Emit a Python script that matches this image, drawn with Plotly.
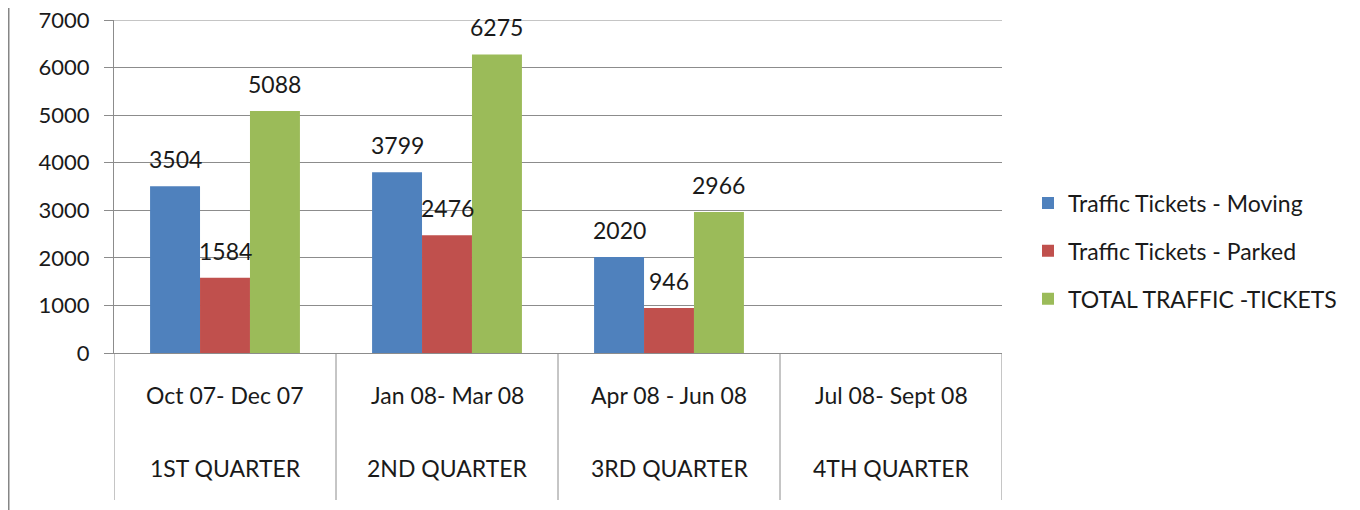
import plotly.graph_objects as go

periods = ["Oct 07- Dec 07", "Jan 08- Mar 08", "Apr 08 - Jun 08", "Jul 08- Sept 08"]
quarters = ["1ST QUARTER", "2ND QUARTER", "3RD QUARTER", "4TH QUARTER"]
series_names = ["Traffic Tickets - Moving", "Traffic Tickets - Parked", "TOTAL TRAFFIC -TICKETS"]
moving = [3504, 3799, 2020, None]
parked = [1584, 2476, 946, None]
total = [5088, 6275, 2966, None]
colors = ["#4F81BD", "#C0504D", "#9BBB59"]
y_ticks = [0, 1000, 2000, 3000, 4000, 5000, 6000, 7000]

FONT = "Lato"
TXT = "#1a1a1a"
x = list(range(len(periods)))
BARGAP = 0.325
n_series = len(series_names)
bar_w = (1 - BARGAP) / n_series

fig = go.Figure()
annotations = []
for i, (name, vals) in enumerate(zip(series_names, [moving, parked, total])):
    fig.add_trace(go.Bar(
        x=x, y=vals, name=name, marker_color=colors[i], marker_line_width=0,
        offsetgroup=str(i), legendgroup=str(i),
    ))
    for k, v in enumerate(vals):
        if v is None:
            continue
        annotations.append(dict(x=k + (i - (n_series - 1) / 2) * bar_w, y=v, xref="x", yref="y",
                                text=str(v), showarrow=False, yanchor="middle", yshift=27,
                                font=dict(family=FONT, size=23, color=TXT)))

# figure sits at an 8px page offset; sizes below are in figure pixels
W, H = 1352, 502
L, R, T, B = 106, 358, 12, 157
pw, ph = W - L - R, H - T - B

shapes = []
for k in range(len(periods) + 1):
    shapes.append(dict(type="line", xref="x", yref="paper", x0=k - 0.5, x1=k - 0.5,
                       y0=0, y1=-(492 - (H - B)) / ph, line=dict(color="#8c8c8c", width=1)))
for px, lw in [(0, 3), (1349, 2)]:
    xp = (px - L) / pw
    shapes.append(dict(type="line", xref="paper", yref="paper", x0=xp, x1=xp,
                       y0=-(B + 5) / ph, y1=(T + 5) / ph + 1, line=dict(color="#868686", width=lw)))
# top gridline at the range edge
shapes.append(dict(type="line", xref="paper", yref="y", x0=0, x1=1, y0=y_ticks[-1], y1=y_ticks[-1],
                   line=dict(color="#8c8c8c", width=1)))

for k, (p, q) in enumerate(zip(periods, quarters)):
    annotations.append(dict(x=k, xref="x", yref="paper", y=-(387 - (H - B)) / ph, text=p,
                            showarrow=False, font=dict(family=FONT, size=23, color=TXT),
                            yanchor="middle"))
    annotations.append(dict(x=k, xref="x", yref="paper", y=-(460 - (H - B)) / ph, text=q,
                            showarrow=False, font=dict(family=FONT, size=23, color=TXT),
                            yanchor="middle"))

fig.update_layout(
    width=W, height=H,
    margin=dict(l=L, r=R, t=T, b=B, pad=0, autoexpand=False),
    paper_bgcolor="white", plot_bgcolor="white",
    barmode="group", bargap=BARGAP, bargroupgap=0,
    showlegend=True,
    legend=dict(x=(1020 - L) / pw, xanchor="left", y=(H - B - 243) / ph, yanchor="middle",
                font=dict(family=FONT, size=23, color=TXT),
                tracegroupgap=15, bgcolor="rgba(0,0,0,0)", itemwidth=30),
    xaxis=dict(range=[-0.5, len(periods) - 0.5], showticklabels=False, ticks="",
               showgrid=False, zeroline=False, showline=True, linecolor="#8c8c8c", linewidth=1,
               fixedrange=True),
    yaxis=dict(range=[0, 7000], tickvals=y_ticks, ticks="outside", ticklen=9, tickcolor="#8c8c8c",
               showgrid=True, gridcolor="#8c8c8c", gridwidth=1, zeroline=False, automargin=False,
               showline=True, linecolor="#8c8c8c", linewidth=1, ticklabelstandoff=10,
               ticklabeloverflow="allow",
               tickfont=dict(family=FONT, size=22, color=TXT), fixedrange=True),
    shapes=shapes, annotations=annotations,
    font=dict(family=FONT),
)

fig.write_html("out.html")
